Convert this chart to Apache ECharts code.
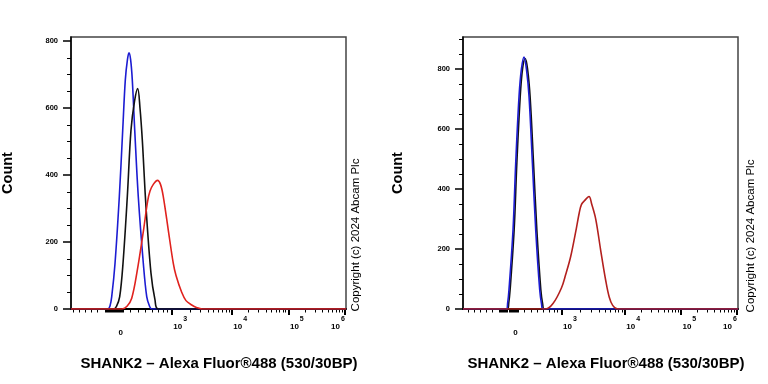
<!DOCTYPE html>
<html>
<head>
<meta charset="utf-8">
<script src="https://cdn.jsdelivr.net/npm/echarts@6.0.0/dist/echarts.min.js"></script>
<style>
  html, body { margin: 0; padding: 0; background: #fff; }
  #chart { width: 768px; height: 384px; }
</style>
</head>
<body>
<div id="chart"></div>
<script>
// x is in display decades of the biexponential axis (10^4 -> 2, 10^5 -> 3, 10^6 -> 4)
const tickLabels = ['0', '10^3', '10^4', '10^5', '10^6'];
const leftLabelPos = [0.041, 0.941, 2, 3, 4];
const rightLabelPos = [0.053, 0.873, 2, 3, 4];
const yTicks = [0, 200, 400, 600, 800];

// left panel
const leftBlue = [[-0.84, 0], [-0.185, 0], [-0.15, 8], [-0.118, 37], [-0.06, 136], [0.016, 335], [0.076, 534],
  [0.122, 684], [0.16, 745], [0.187, 765], [0.215, 745], [0.245, 684], [0.288, 534], [0.351, 335],
  [0.44, 136], [0.5, 37], [0.55, 8], [0.59, 0], [4.02, 0]];
const leftBlack = [[-0.84, 0], [-0.086, 0], [-0.034, 8], [0.023, 37], [0.081, 136], [0.157, 335], [0.222, 534],
  [0.284, 620], [0.341, 658], [0.381, 600], [0.422, 504], [0.487, 305], [0.575, 107], [0.646, 27],
  [0.704, 0], [4.02, 0]];
const leftRed = [[-0.84, 0], [0.064, 0], [0.152, 8], [0.235, 32], [0.328, 110], [0.443, 235], [0.514, 320],
  [0.558, 352], [0.616, 372], [0.69, 384], [0.743, 372], [0.793, 335], [0.881, 235], [0.969, 136],
  [1.017, 100], [1.117, 50], [1.193, 25], [1.294, 12], [1.387, 4], [1.476, 0], [4.02, 0]];

// right panel
const rightBlack = [[-0.88, 0], [-0.087, 0], [-0.065, 20], [-0.041, 64], [0.031, 264], [0.079, 487], [0.138, 705],
  [0.18, 800], [0.227, 835], [0.27, 800], [0.316, 705], [0.376, 487], [0.435, 264], [0.506, 64],
  [0.54, 15], [0.565, 0], [4.02, 0]];
const rightBlue = [[-0.88, 0], [-0.107, 0], [-0.085, 20], [-0.061, 64], [0.011, 264], [0.059, 487], [0.118, 709],
  [0.16, 800], [0.207, 840], [0.25, 800], [0.296, 709], [0.356, 487], [0.415, 264], [0.486, 64],
  [0.52, 15], [0.545, 0], [4.02, 0]];
const rightRed = [[-0.88, 0], [0.593, 0], [0.723, 18], [0.873, 70], [0.949, 115], [1.038, 175], [1.14, 270],
  [1.19, 320], [1.229, 348], [1.288, 362], [1.364, 375], [1.412, 350], [1.484, 300], [1.573, 195],
  [1.662, 95], [1.724, 40], [1.786, 12], [1.875, 0], [4.02, 0]];

const FONT = 'Liberation Sans';

// minor ticks: linear part around 0, then log decades
function minorTicks(zero, thousand) {
  const out = [];
  [-0.406, -0.512, -0.63, -0.736, -0.837].forEach(d => out.push(zero + d));
  for (let d = -0.28; d <= 0.05; d += 0.018) out.push(zero + d);
  [0.19, 0.34, 0.48, 0.61, 0.73, 0.84, 0.92].forEach(f => out.push(zero + f * (thousand - zero)));
  for (let m = 2; m <= 9; m++) out.push(thousand + Math.log10(m) * (2 - thousand));
  for (let k = 2; k < 4; k++) {
    for (let m = 2; m <= 9; m++) out.push(k + Math.log10(m));
  }
  return out;
}

function xAxes(grid, min, max, labelPos) {
  return [{
    type: 'value', gridIndex: grid, min: min, max: max, position: 'bottom',
    axisLine: { show: true, onZero: false, lineStyle: { color: '#000', width: 2 } },
    axisTick: { show: true, customValues: labelPos.slice(1), length: 6, lineStyle: { color: '#000', width: 2 } },
    axisLabel: {
      customValues: labelPos, margin: 7,
      formatter: function (v) {
        let i = labelPos.findIndex(p => Math.abs(p - v) < 1e-6);
        let t = tickLabels[i] || '';
        if (t.indexOf('^') < 0) return '{z|' + t + '}';
        let parts = t.split('^');
        // last label sits left of its tick, at the frame edge
        if (i === tickLabels.length - 1) return '{l|' + parts[0] + '}{e|' + parts[1] + '}';
        return '{b|' + parts[0] + '}{s|' + parts[1] + '}';
      },
      rich: {
        z: { fontFamily: FONT, fontSize: 8, fontWeight: 'bold', color: '#000', lineHeight: 34 },
        b: { fontFamily: FONT, fontSize: 8, fontWeight: 'bold', color: '#000', lineHeight: 22, padding: [0, 0, 0, 17] },
        s: { fontFamily: FONT, fontSize: 7, fontWeight: 'bold', color: '#000', lineHeight: 10, verticalAlign: 'top', padding: [0, 0, 0, 1] },
        l: { fontFamily: FONT, fontSize: 8, fontWeight: 'bold', color: '#000', lineHeight: 22 },
        e: { fontFamily: FONT, fontSize: 7, fontWeight: 'bold', color: '#000', lineHeight: 10, verticalAlign: 'top', padding: [0, 14, 0, 1] }
      }
    },
    splitLine: { show: false }
  }, {
    type: 'value', gridIndex: grid, min: min, max: max, position: 'bottom',
    axisLine: { show: false, onZero: false },
    axisTick: { show: true, customValues: minorTicks(labelPos[0], labelPos[1]), length: 3.5, lineStyle: { color: '#000', width: 1 } },
    axisLabel: { show: false },
    splitLine: { show: false }
  }];
}

function yAxes(grid, max) {
  const minor = [];
  for (let v = 50; v <= max; v += 50) if (v % 200 !== 0) minor.push(v);
  return [{
    type: 'value', gridIndex: grid, min: 0, max: max, position: 'left',
    axisLine: { show: true, onZero: false, lineStyle: { color: '#000', width: 1.5 } },
    axisTick: { show: true, customValues: yTicks, length: 8, lineStyle: { color: '#000', width: 1.5 } },
    axisLabel: { customValues: yTicks, margin: 13, fontFamily: FONT, fontSize: 7.5, fontWeight: 'bold', color: '#000' },
    splitLine: { show: false }
  }, {
    type: 'value', gridIndex: grid, min: 0, max: max, position: 'left',
    axisLine: { show: false, onZero: false },
    axisTick: { show: true, customValues: minor, length: 4, lineStyle: { color: '#000', width: 1 } },
    axisLabel: { show: false },
    splitLine: { show: false }
  }];
}

function line(data, color, xi, yi) {
  return {
    type: 'line', data: data, xAxisIndex: xi, yAxisIndex: yi,
    showSymbol: false, smooth: 0.35, animation: false,
    lineStyle: { color: color, width: 1.6 }
  };
}

function vtext(x, y, text, size, weight) {
  return {
    type: 'text', x: x, y: y, rotation: Math.PI / 2,
    style: { text: text, fill: '#000', font: weight + ' ' + size + 'px "' + FONT + '"', align: 'center', verticalAlign: 'middle' }
  };
}
function htext(x, y, text) {
  return {
    type: 'text', x: x, y: y,
    style: { text: text, fill: '#000', font: 'bold 15px "' + FONT + '"', align: 'center', verticalAlign: 'middle' }
  };
}

const chart = echarts.init(document.getElementById('chart'), null, { renderer: 'canvas' });
chart.setOption({
  animation: false,
  backgroundColor: '#fff',
  grid: [
    { left: 71, top: 37, width: 275, height: 272, show: true, borderColor: '#444', borderWidth: 1.5 },
    { left: 463, top: 37, width: 275, height: 272, show: true, borderColor: '#444', borderWidth: 1.5 }
  ],
  xAxis: [].concat(xAxes(0, -0.837, 4.018, leftLabelPos), xAxes(1, -0.88, 4.018, rightLabelPos)),
  yAxis: [].concat(yAxes(0, 812), yAxes(1, 907)),
  series: [
    line(leftBlue, '#1c1cd2', 0, 0),
    line(leftBlack, '#111111', 0, 0),
    line(leftRed, '#e0221e', 0, 0),
    line(rightBlack, '#111111', 2, 2),
    line(rightBlue, '#1c1cd2', 2, 2),
    line(rightRed, '#b3201e', 2, 2)
  ],
  graphic: [
    vtext(8, 173, 'Count', 14.5, 'bold'),
    vtext(398, 173, 'Count', 14.5, 'bold'),
    htext(219, 364, 'SHANK2 \u2013 Alexa Fluor\u00ae488 (530/30BP)'),
    htext(606, 364, 'SHANK2 \u2013 Alexa Fluor\u00ae488 (530/30BP)'),
    vtext(356, 235, 'Copyright (c) 2024 Abcam Plc', 11.5, 'normal'),
    vtext(751, 236, 'Copyright (c) 2024 Abcam Plc', 11.5, 'normal')
  ]
});
</script>
</body>
</html>
